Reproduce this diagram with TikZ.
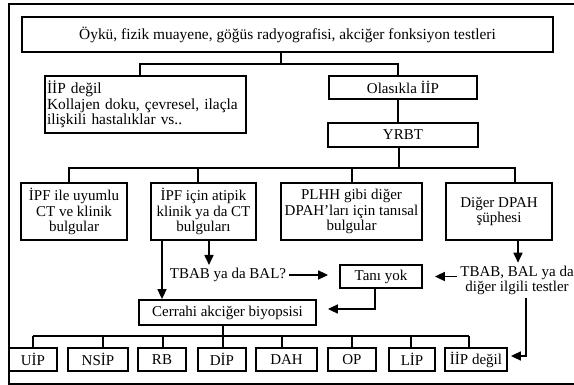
\documentclass[tikz,border=0pt]{standalone}
\usepackage{fontspec}
\setmainfont{Liberation Serif}
\usetikzlibrary{arrows.meta}
\newcommand\diagfont{\fontsize{15}{15.5}\selectfont}
\newcommand\diagfontbig{\fontsize{15.4}{15.5}\selectfont}
\begin{document}
\begin{tikzpicture}[x=1pt,y=-1pt,
  box/.style={draw, line width=1.8pt, inner sep=1pt, align=center, font=\diagfont},
  lbl/.style={inner sep=3pt, align=center, font=\diagfont},
  ln/.style={line width=1.7pt},
  arr/.style={line width=1.7pt, -{Triangle[length=10pt,width=9pt]}}]
\useasboundingbox (0,0) rectangle (574,385);
\draw[line width=1.7pt] (9,4) rectangle (590,384);
% boxes
\node[box, font=\diagfontbig, minimum width=531pt, minimum height=35pt] (top) at (287.5,34.5)
  {Öykü, fizik muayene, göğüs radyografisi, akciğer fonksiyon testleri};
\node[box, font=\diagfontbig, minimum width=201pt, minimum height=57pt, inner sep=2pt, text width=197pt, align=left] (iip) at (145.5,104.5)
  {İİP değil\\Kollajen doku, çevresel, ilaçla\\ilişkili hastalıklar vs..};
\node[box, minimum width=148pt, minimum height=23pt] (olas) at (403,87.5) {Olasıkla İİP};
\node[box, minimum width=150pt, minimum height=24pt] (yrbt) at (403,135) {YRBT};
\node[box, minimum width=106pt, minimum height=57pt] (b1) at (74,211.5) {İPF ile uyumlu\\CT ve klinik\\bulgular};
\node[box, minimum width=105pt, minimum height=57pt] (b2) at (203.5,211.5) {İPF için atipik\\klinik ya da CT\\bulguları};
\node[box, minimum width=141pt, minimum height=57pt] (b3) at (351.5,211.5) {PLHH gibi diğer\\DPAH’ları için tanısal\\bulgular};
\node[box, minimum width=106pt, minimum height=57pt] (b4) at (499,211.5) {Diğer DPAH\\şüphesi};
\node[lbl] (tbab) at (228,275) {TBAB ya da BAL?};
\node[box, minimum width=82pt, minimum height=23pt] (tani) at (381,276.5) {Tanı yok};
\node[lbl] (rt) at (517,280.5) {TBAB, BAL ya da\\diğer ilgili testler};
\node[box, minimum width=177pt, minimum height=25pt] (cerr) at (227.5,312.5) {Cerrahi akciğer biyopsisi};
\node[box, minimum width=48pt, minimum height=23pt] (uip) at (33,359.5) {UİP};
\node[box, minimum width=60pt, minimum height=23pt] (nsip) at (98,359.5) {NSİP};
\node[box, minimum width=48pt, minimum height=23pt] (rb) at (162,359.5) {RB};
\node[box, minimum width=48pt, minimum height=23pt] (dip) at (222,359.5) {DİP};
\node[box, minimum width=61pt, minimum height=23pt] (dah) at (286.5,359.5) {DAH};
\node[box, minimum width=48pt, minimum height=23pt] (op) at (352,359.5) {OP};
\node[box, minimum width=46pt, minimum height=23pt] (lip) at (412,359.5) {LİP};
\node[box, minimum width=62pt, minimum height=23pt] (niip) at (476,359.5) {İİP değil};
% first branch
\coordinate (j1) at (281,64);
\coordinate (j1l) at (140,64);
\coordinate (j1r) at (398,64);
\draw[ln] (top.south -| j1) -- (j1);
\draw[ln] (iip.north -| j1l) -- (j1l) -- (j1r) -- (olas.north -| j1r);
\draw[ln] (olas.south -| j1r) -- (yrbt.north -| j1r);
% second branch
\coordinate (j2) at (399,168);
\coordinate (j2a) at (69,168);
\coordinate (j2b) at (198,168);
\coordinate (j2c) at (352,168);
\coordinate (j2d) at (515,168);
\draw[ln] (yrbt.south -| j2) -- (j2);
\draw[ln] (b1.north -| j2a) -- (j2a) -- (j2d) -- (b4.north -| j2d);
\draw[ln] (j2b) -- (b2.north -| j2b);
\draw[ln] (j2c) -- (b3.north -| j2c);
% arrows middle
\coordinate (a1) at (162,0);
\coordinate (a2) at (209,0);
\coordinate (a3) at (518,0);
\draw[arr] (b2.south -| a1) -- (cerr.north -| a1);
\draw[arr] (b2.south -| a2) -- (tbab.north -| a2);
\draw[arr, shorten >=11pt] (tbab.east) -- (tbab.east -| tani.west);
\draw[arr, shorten >=12pt] (tani.east -| rt.west) -- (tani.east);
\draw[arr] (b4.south -| a3) -- (rt.north -| a3);
\coordinate (c5) at (375,309);
\draw[arr, shorten >=11pt] (tani.south -| c5) -- (c5) -- (cerr.east |- c5);
\coordinate (c4) at (526,356);
\draw[arr, shorten >=3pt] (rt.south -| c4) -- (c4) -- (niip.east |- c4);
% bottom bus
\coordinate (j3) at (223,336);
\draw[ln] (cerr.south -| j3) -- (j3);
\foreach \n/\x in {uip/33, nsip/103, rb/163, dip/223, dah/282, op/352, lip/411, niip/469}
  {\coordinate (d\n) at (\x,336);
   \draw[ln] (d\n) -- (d\n |- \n.north);}
\draw[ln] (duip) -- (dniip);
\end{tikzpicture}
\end{document}
